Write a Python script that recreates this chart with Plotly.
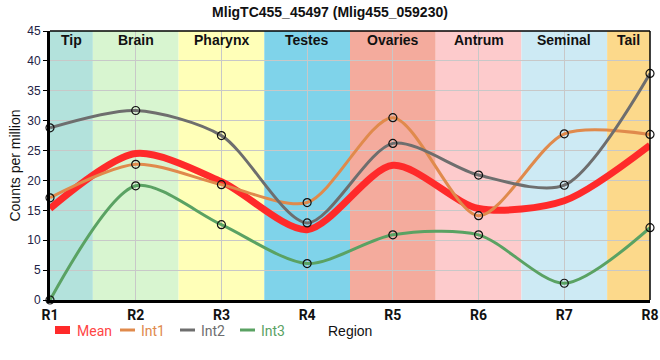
import plotly.graph_objects as go

regions = ["R1", "R2", "R3", "R4", "R5", "R6", "R7", "R8"]
int1 = [17.1, 22.7, 19.3, 16.3, 30.5, 14.1, 27.8, 27.7]
int2 = [28.8, 31.7, 27.5, 12.9, 26.2, 20.9, 19.2, 37.9]
int3 = [0.0, 19.1, 12.6, 6.1, 10.9, 10.9, 2.8, 12.1]
mean = [round((a + b + c) / 3, 2) for a, b, c in zip(int1, int2, int3)]

band_names = ["Tip", "Brain", "Pharynx", "Testes", "Ovaries", "Antrum", "Seminal", "Tail"]
band_colors = ["#b3e2dc", "#d8f5d0", "#ffffb8", "#7fd3ea", "#f4ab9d", "#fdcbcc", "#cdeaf4", "#fcd98b"]

x = list(range(len(regions)))

W, H = 660, 360
L, R, T, B = 50, 10, 31, 60
PW, PH = W - L - R, H - T - B


def px_x(p):
    return (p - L) / PW


def px_y(p):
    return (H - B - p) / PH


fig = go.Figure()

shapes = []
annotations = []
for i, (nm, col) in enumerate(zip(band_names, band_colors)):
    x0 = max(i - 0.5, 0)
    x1 = min(i + 0.5, len(regions) - 1)
    shapes.append(dict(type="rect", xref="x", yref="paper", x0=x0, x1=x1, y0=0, y1=1,
                       fillcolor=col, line=dict(width=0), layer="below"))
    annotations.append(dict(x=(x0 + x1) / 2, y=1, xref="x", yref="paper", yanchor="top",
                            text="<b>%s</b>" % nm, showarrow=False, yshift=1,
                            font=dict(size=14, color="#111111", family="Liberation Sans, Arial")))

mean_col = "#ff2a2a"
fig.add_trace(go.Scatter(x=x, y=mean, mode="lines", showlegend=False,
                         line=dict(color=mean_col, width=7, shape="spline", smoothing=0.8)))
series = [("Int1", int1, "#e08a4c"), ("Int2", int2, "#6e6e6e"), ("Int3", int3, "#5aa263")]
for nm, ys, col in series:
    fig.add_trace(go.Scatter(x=x, y=ys, mode="lines", showlegend=False,
                             line=dict(color=col, width=3, shape="spline", smoothing=0.8)))
for nm, ys, col in series:
    fig.add_trace(go.Scatter(x=x, y=ys, mode="markers", showlegend=False, cliponaxis=False,
                             marker=dict(symbol="circle-open", size=8, color="#111111", line=dict(width=1.2))))

# manual legend
leg_y = 331
legend_items = [("Mean", "#ff4545", mean_col, 8, 55, 75),
                ("Int1", "#e08a4c", "#e08a4c", 3, 120, 139),
                ("Int2", "#6e6e6e", "#6e6e6e", 3, 180, 199),
                ("Int3", "#5aa263", "#5aa263", 3, 240, 259)]
for nm, tcol, lcol, lw, sx, tx in legend_items:
    shapes.append(dict(type="line", xref="paper", yref="paper", x0=px_x(sx), x1=px_x(sx + 15),
                       y0=px_y(leg_y - 1), y1=px_y(leg_y - 1), line=dict(color=lcol, width=lw)))
    annotations.append(dict(x=px_x(tx), y=px_y(leg_y), xref="paper", yref="paper", xanchor="left",
                            yanchor="middle", text=nm, showarrow=False,
                            font=dict(size=14, color=tcol, family="Roboto, Liberation Sans")))
annotations.append(dict(x=px_x(350), y=px_y(331), xref="paper", yref="paper", xanchor="center",
                        yanchor="middle", text="Region", showarrow=False,
                        font=dict(size=14, color="#111111", family="Liberation Sans, Arial")))

# top and right border
shapes.append(dict(type="line", xref="paper", yref="paper", x0=0, x1=1, y0=1, y1=1, line=dict(color="black", width=1.5)))
shapes.append(dict(type="line", xref="paper", yref="paper", x0=1, x1=1, y0=0, y1=1, line=dict(color="black", width=1.5)))

fig.update_layout(
    width=W, height=H,
    margin=dict(l=L, r=R, t=T, b=B, autoexpand=False),
    paper_bgcolor="white", plot_bgcolor="white",
    title=dict(text="<b>MligTC455_45497 (Mlig455_059230)</b>", x=0.5, xanchor="center", y=0.98, yanchor="top",
               font=dict(size=14, color="#111111", family="Liberation Sans, Arial")),
    shapes=shapes, annotations=annotations,
    showlegend=False,
    font=dict(family="Liberation Sans, Arial", color="#111111"),
)
fig.update_xaxes(tickvals=x, ticktext=["<b>%s</b>" % r for r in regions], range=[0, 7],
                 showgrid=True, gridcolor="#c8c8c8", gridwidth=1, automargin=False,
                 showline=True, linecolor="black", linewidth=3, mirror=False,
                 tickfont=dict(size=14, family="Roboto, Liberation Sans", color="#111111"),
                 zeroline=False, ticks="")
fig.update_yaxes(range=[0, 45], dtick=5, showgrid=True, gridcolor="#c8c8c8", gridwidth=1,
                 showline=True, linecolor="black", linewidth=3, automargin=False,
                 ticks="outside", ticklen=4, tickcolor="black",
                 tickfont=dict(size=12, color="#222244"),
                 title=dict(text="Counts per million", font=dict(size=14, color="#111111"), standoff=4),
                 zeroline=False)

fig.write_html("out.html", config={"displayModeBar": False},
               post_script="document.body.style.margin='0';document.body.style.overflow='hidden';")
